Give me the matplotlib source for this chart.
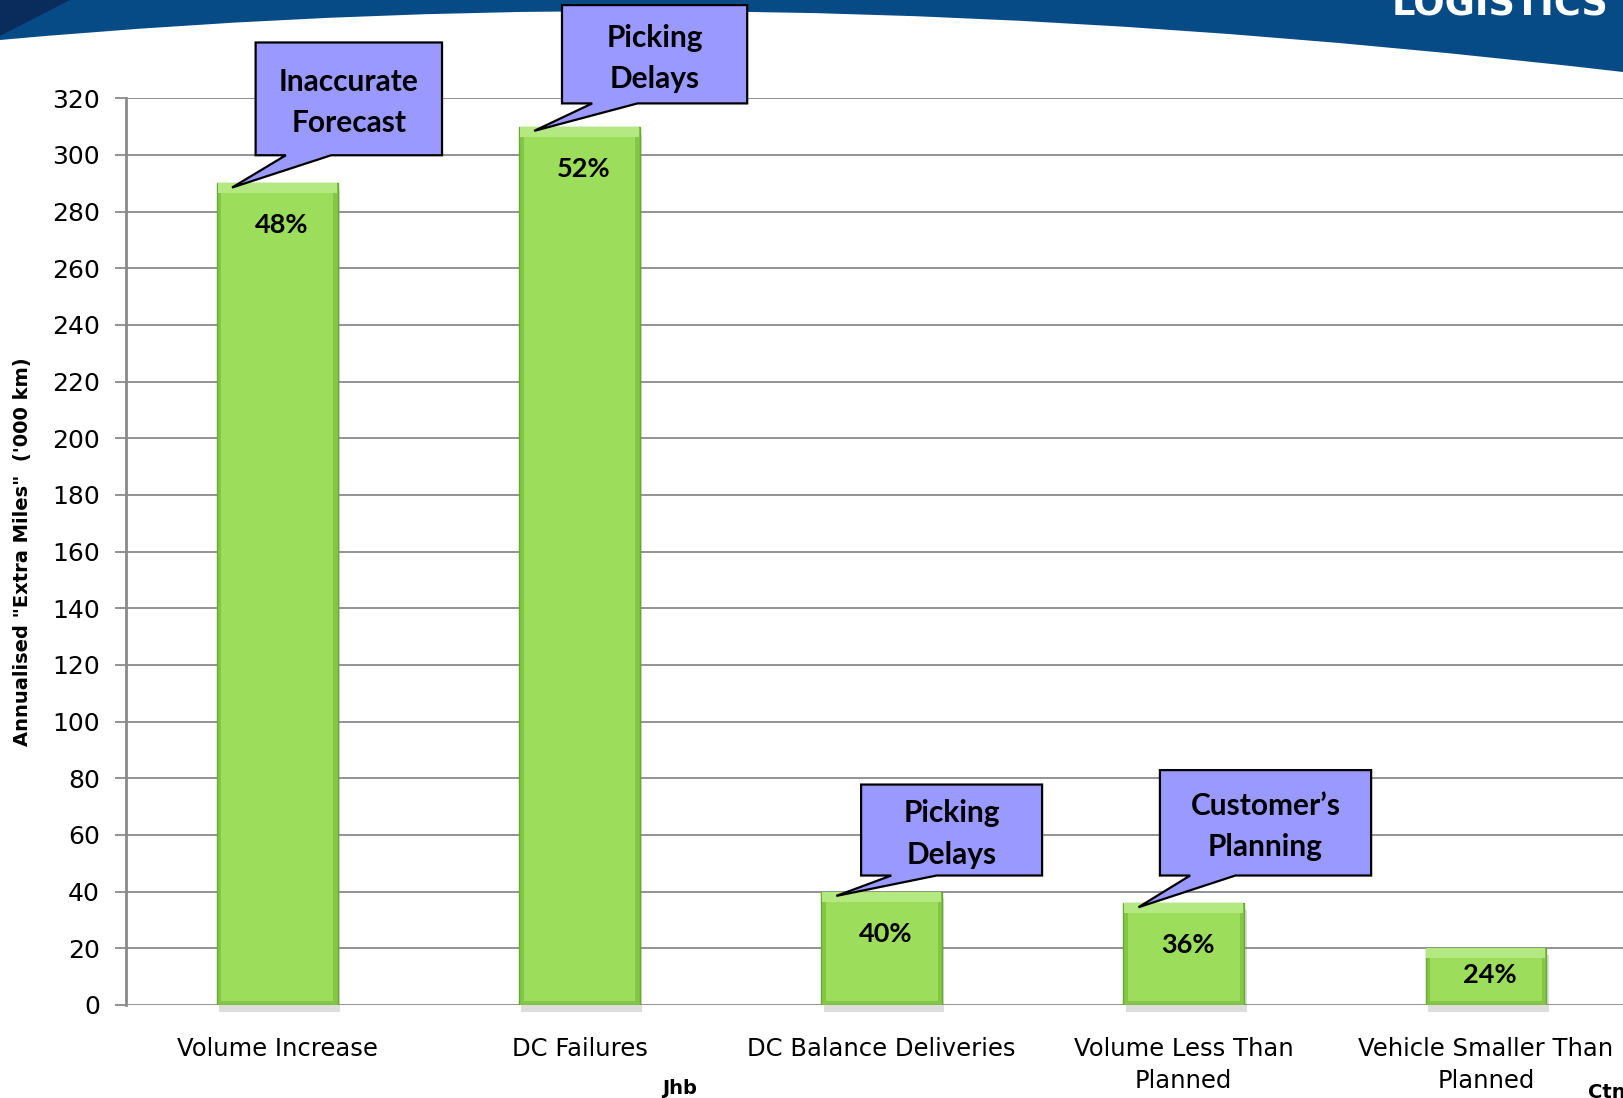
"""Annualised extra km by cause - bar chart with callouts."""

import numpy as np
import matplotlib
matplotlib.use("Agg")
import matplotlib.pyplot as plt
from matplotlib.patches import Polygon, PathPatch
from matplotlib.path import Path

# ---- data ----
categories = ["Volume Increase", "DC Failures", "DC Balance Deliveries",
              "Volume Less Than\nPlanned", "Vehicle Smaller Than\nPlanned"]
extra_km = [290, 310, 40, 36, 20]
pct_labels = ["48%", "52%", "40%", "36%", "24%"]
y_ticks = list(range(0, 321, 20))
y_label = "Annualised \"Extra Miles\"  ('000 km)"

callout_bar = [0, 1, 2, 3]
callout_text = ["Inaccurate\nForecast", "Picking\nDelays",
                "Picking\nDelays", "Customer\u2019s\nPlanning"]

# callout box layout (offsets from the category centre, y in axis units)
box_dx = [(-0.072, 0.545), (-0.058, 0.555), (-0.068, 0.531), (-0.079, 0.62)]
box_y = [(299.9, 339.7), (318.2, 352.9), (45.7, 77.8), (45.7, 82.9)]

W, H = 1623, 1098
fig = plt.figure(figsize=(W / 100, H / 100), dpi=100)
fig.patch.set_facecolor("white")


def fit_text(txt, target_px, vertical=False):
    r = fig.canvas.get_renderer()
    bb = txt.get_window_extent(r)
    cur = bb.height if vertical else bb.width
    txt.set_fontsize(txt.get_fontsize() * target_px / cur)


# ---- slide header ----
bg = fig.add_axes([0, 0, 1, 1], zorder=0)
bg.set_xlim(0, W)
bg.set_ylim(H, 0)
bg.axis("off")
verts = [(0, 0), (W, 0), (W, 72), (1000, 0), (500, -5), (0, 40), (0, 0)]
codes = [Path.MOVETO, Path.LINETO, Path.LINETO, Path.CURVE4, Path.CURVE4,
         Path.CURVE4, Path.CLOSEPOLY]
bg.add_patch(PathPatch(Path(verts, codes), fc="#074b86", ec="none"))
bg.add_patch(Polygon([(0, 0), (70, 0), (0, 36)], fc="#0a2c5c", ec="none"))
logo = bg.text(1392, 15, "LOGISTICS", color="white", weight="bold",
               fontsize=26, ha="left", va="baseline")
fit_text(logo, 217)

# ---- main axes ----
ax = fig.add_axes([126.3 / W, 93 / H, 1510.7 / W, 906.7 / H], zorder=1)
ax.set_facecolor("none")
x = np.arange(len(categories))
bar_w = 0.4

# shadow, bevel frame, lighter top bevel, inner face
ax.bar(x + 0.008, extra_km, width=bar_w, bottom=-2.5, color="#7a7a7a",
       alpha=0.25, lw=0, zorder=2, clip_on=False)
ax.bar(x, extra_km, width=bar_w, color="#84c646", edgecolor="#6aa833",
       lw=1, zorder=3)
ax.bar(x, [3.5] * len(x), bottom=[v - 3.5 for v in extra_km], width=bar_w - 0.006,
       color="#b4e982", lw=0, zorder=4)
ax.bar(x, [v - 5.0 for v in extra_km], bottom=1.5, width=bar_w - 0.03,
       color="#9ddd5c", lw=0, zorder=4)

for xi, v, lab in zip(x, extra_km, pct_labels):
    off = min(42, v * 2.834 * 0.47)
    ax.annotate(lab, (xi, v), xytext=(4, -off), textcoords="offset pixels",
                ha="center", va="center", fontsize=19.5, weight="bold",
                family="Lato", zorder=5)

for bi, txt, (dl, dr), (yb, yt) in zip(callout_bar, callout_text, box_dx, box_y):
    cx = x[bi]
    L, R = cx + dl, cx + dr
    tip = (cx - bar_w / 2 + 0.05, extra_km[bi] - 1.5)
    pts = [(L, yb), (L + 0.10, yb), tip, (L + 0.25, yb), (R, yb), (R, yt), (L, yt)]
    ax.add_patch(Polygon(pts, closed=True, fc="#9999ff", ec="black", lw=1.6,
                         zorder=6, clip_on=False, joinstyle="miter"))
    ax.annotate(txt, ((L + R) / 2, (yb + yt) / 2), xytext=(0, -4),
                textcoords="offset pixels", ha="center", va="center",
                fontsize=21.5, weight="bold", family="Lato", linespacing=1.57,
                zorder=7, annotation_clip=False)

ax.set_xlim(-0.5, 4.5)
ax.set_ylim(0, 320)
ax.set_yticks(y_ticks)
ax.set_xticks(x)
ax.set_xticklabels(categories, fontsize=17.5, linespacing=1.4)
ax.yaxis.grid(True, color="#8a8a8a", lw=1.3)
ax.set_axisbelow(True)
for side in ["top", "right", "bottom"]:
    ax.spines[side].set_visible(False)
ax.spines["left"].set_color("#8a8a8a")
ax.spines["left"].set_linewidth(2)
ax.tick_params(axis="y", length=8, width=1.3, color="#8a8a8a", pad=11,
               labelsize=18)
ax.tick_params(axis="x", length=0, pad=23)

ylab = fig.text(23 / W, 1 - 552 / H, y_label, rotation=90, ha="center",
                va="center", weight="bold", fontsize=14)
fit_text(ylab, 390, vertical=True)

fig.text(680 / W, 1 - 1089 / H, "Jhb", ha="center", va="center",
         weight="bold", fontsize=14)
fig.text(1588 / W, 1 - 1092 / H, "Ctn", ha="left", va="center",
         weight="bold", fontsize=14)

fig.savefig("out.png", dpi=100)
